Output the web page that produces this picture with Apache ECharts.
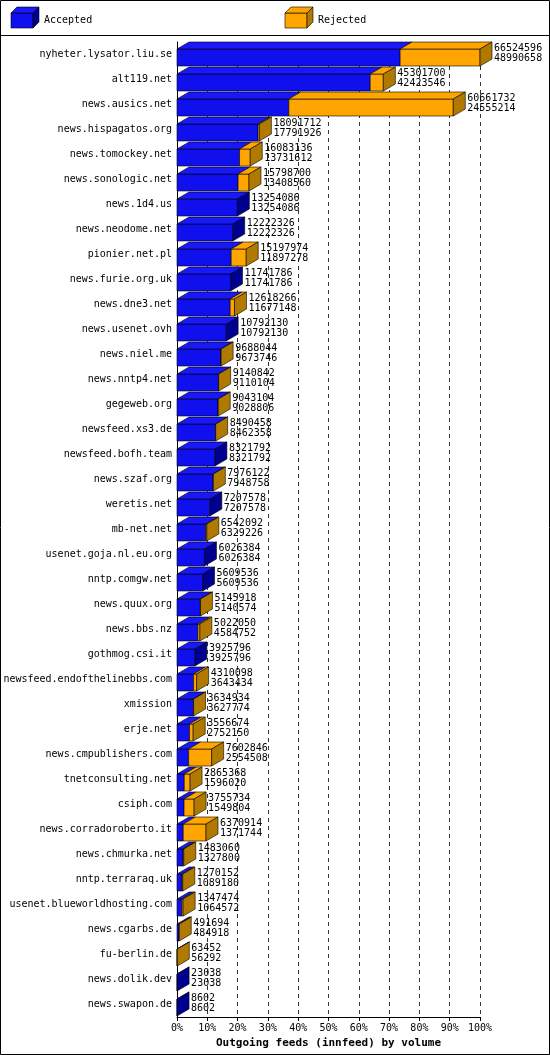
<!DOCTYPE html>
<html><head><meta charset="utf-8">
<script src="https://cdn.jsdelivr.net/npm/echarts@6/dist/echarts.min.js"></script>
<style>html,body{margin:0;padding:0;background:#fff}#c{width:550px;height:1055px}</style>
</head><body><div id="c"></div>
<script>
const hosts=["nyheter.lysator.liu.se","alt119.net","news.ausics.net","news.hispagatos.org","news.tomockey.net","news.sonologic.net","news.1d4.us","news.neodome.net","pionier.net.pl","news.furie.org.uk","news.dne3.net","news.usenet.ovh","news.niel.me","news.nntp4.net","gegeweb.org","newsfeed.xs3.de","newsfeed.bofh.team","news.szaf.org","weretis.net","mb-net.net","usenet.goja.nl.eu.org","nntp.comgw.net","news.quux.org","news.bbs.nz","gothmog.csi.it","newsfeed.endofthelinebbs.com","xmission","erje.net","news.cmpublishers.com","tnetconsulting.net","csiph.com","news.corradoroberto.it","news.chmurka.net","nntp.terraraq.uk","usenet.blueworldhosting.com","news.cgarbs.de","fu-berlin.de","news.dolik.dev","news.swapon.de"];
const offered=[66524596,45301700,60661732,18091712,16083136,15798700,13254086,12222326,15197974,11741786,12618266,10792130,9688044,9140842,9043104,8490458,8321792,7976122,7207578,6542092,6026384,5609536,5145918,5022050,3925796,4310098,3634934,3556674,7602846,2865368,3755734,6370914,1483060,1270152,1347474,491694,63452,23038,8602];
const accepted=[48990658,42423546,24555214,17791926,13731612,13408560,13254086,12222326,11897278,11741786,11677148,10792130,9673746,9110104,9028806,8462358,8321792,7948758,7207578,6329226,6026384,5609536,5140574,4584752,3925796,3643434,3627774,2752150,2554508,1596020,1549804,1371744,1327800,1089180,1064572,484918,56292,23038,8602];
const xTicks=["0%","10%","20%","30%","40%","50%","60%","70%","80%","90%","100%"];
const MAX=offered[0];
const DX=12,DY=-7;
const font="DejaVu Sans Mono";
function poly(pts,fill){return {type:'polygon',shape:{points:pts},style:{fill:fill,stroke:'#000',lineWidth:0.6}};}
const chart=echarts.init(document.getElementById('c'));
chart.setOption({
 animation:false,
 grid:{left:177,right:70,top:42,bottom:38,containLabel:false},
 xAxis:{type:'value',min:0,max:MAX,interval:MAX/10,
  axisLabel:{formatter:(v)=>xTicks[Math.round(v/MAX*10)],fontFamily:font,fontSize:10,color:'#000',margin:6},
  splitLine:{show:true,lineStyle:{type:[4,4],color:'#000',width:0.8}},
  axisLine:{show:true,lineStyle:{color:'#000'}},axisTick:{show:true,length:4,lineStyle:{color:'#000'}},
  name:'Outgoing feeds (innfeed) by volume',nameLocation:'middle',nameGap:20,
  nameTextStyle:{fontFamily:font,fontSize:11,fontWeight:'bold',color:'#000'}},
 yAxis:{type:'category',data:hosts,inverse:true,
  axisLabel:{fontFamily:font,fontSize:10,color:'#000',margin:5},
  axisLine:{show:true,lineStyle:{color:'#000'}},axisTick:{show:false}},
 series:[{type:'custom',clip:false,
  data:hosts.map((h,i)=>[i,offered[i],accepted[i]]),
  encode:{x:[1,2],y:0},
  renderItem:(params,api)=>{
   const i=api.value(0),t=api.value(1),a=api.value(2);
   const p0=api.coord([0,i]),pa=api.coord([a,i]),pt=api.coord([t,i]);
   const h=17,y=p0[1]-h/2+3,x0=p0[0],xa=pa[0],xt=pt[0];
   const ch=[];
   ch.push({type:'rect',shape:{x:x0,y:y,width:xa-x0,height:h},style:{fill:'#1010ee',stroke:'#000',lineWidth:0.6}});
   ch.push(poly([[x0,y],[x0+DX,y+DY],[xa+DX,y+DY],[xa,y]],'#1818f8'));
   if(t>a){
    ch.push({type:'rect',shape:{x:xa,y:y,width:xt-xa,height:h},style:{fill:'#ffa500',stroke:'#000',lineWidth:0.6}});
    ch.push(poly([[xa,y],[xa+DX,y+DY],[xt+DX,y+DY],[xt,y]],'#ffa500'));
    ch.push(poly([[xt,y],[xt+DX,y+DY],[xt+DX,y+DY+h],[xt,y+h]],'#b07a00'));
   } else {
    ch.push(poly([[xa,y],[xa+DX,y+DY],[xa+DX,y+DY+h],[xa,y+h]],'#000090'));
   }
   ch.push({type:'text',style:{x:xt+DX+2,y:p0[1]-1,text:t+'\n'+a,fontFamily:font,fontSize:10,lineHeight:10,fill:'#000',verticalAlign:'middle',align:'left'}});
   return {type:'group',children:ch};
  }}],
 graphic:[
  {type:'rect',shape:{x:0.5,y:0.5,width:549,height:1054},style:{fill:'none',stroke:'#000',lineWidth:1},silent:true},
  {type:'line',shape:{x1:0,y1:35.5,x2:550,y2:35.5},style:{stroke:'#000',lineWidth:1}},
  {type:'rect',shape:{x:11,y:13,width:22,height:15},style:{fill:'#1010ee',stroke:'#000',lineWidth:0.6}},
  {type:'polygon',shape:{points:[[11,13],[17,7],[39,7],[33,13]]},style:{fill:'#1818f8',stroke:'#000',lineWidth:0.6}},
  {type:'polygon',shape:{points:[[33,13],[39,7],[39,22],[33,28]]},style:{fill:'#000090',stroke:'#000',lineWidth:0.6}},
  {type:'text',style:{x:44,y:20,text:'Accepted',fontFamily:font,fontSize:10,fill:'#000',verticalAlign:'middle'}},
  {type:'rect',shape:{x:285,y:13,width:22,height:15},style:{fill:'#ffa500',stroke:'#000',lineWidth:0.6}},
  {type:'polygon',shape:{points:[[285,13],[291,7],[313,7],[307,13]]},style:{fill:'#ffa500',stroke:'#000',lineWidth:0.6}},
  {type:'polygon',shape:{points:[[307,13],[313,7],[313,22],[307,28]]},style:{fill:'#b07a00',stroke:'#000',lineWidth:0.6}},
  {type:'text',style:{x:318,y:20,text:'Rejected',fontFamily:font,fontSize:10,fill:'#000',verticalAlign:'middle'}}
 ]
});
</script></body></html>
